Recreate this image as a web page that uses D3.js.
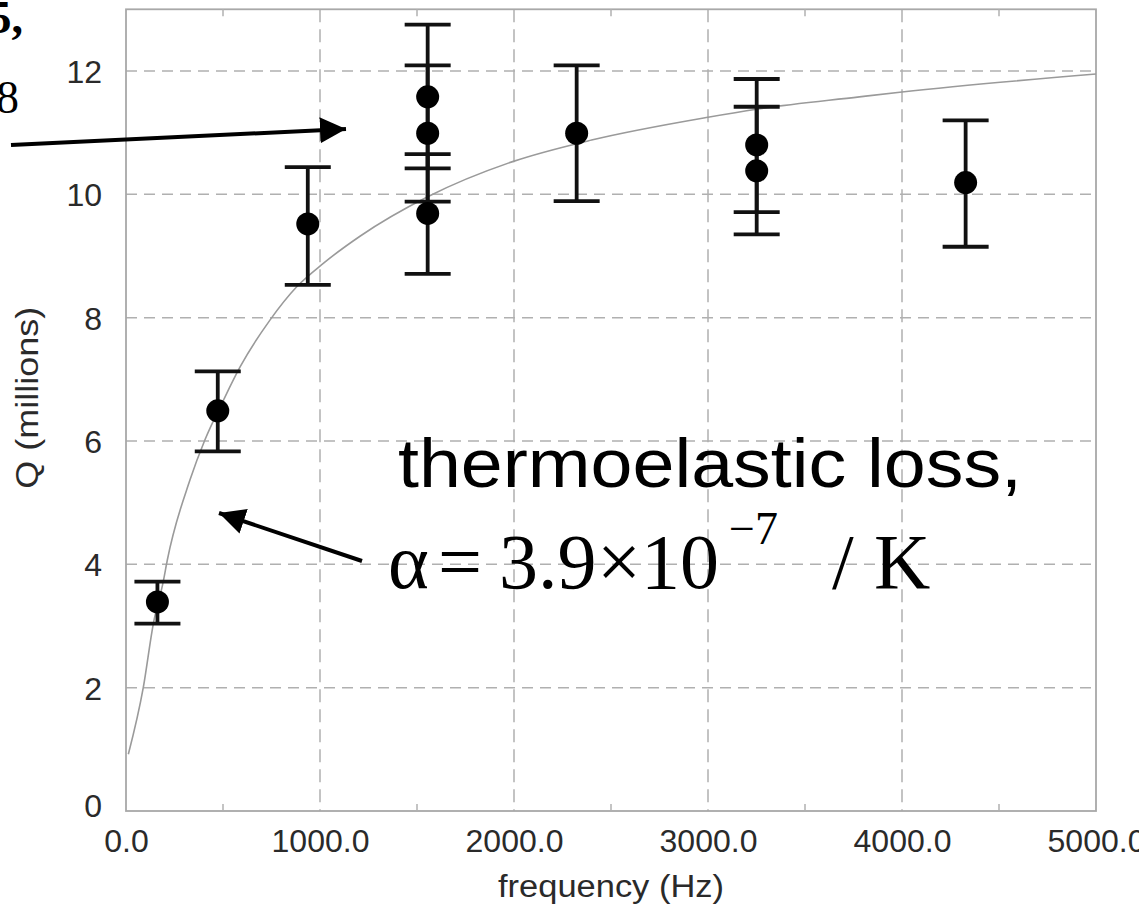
<!DOCTYPE html>
<html>
<head>
<meta charset="utf-8">
<script src="https://cdn.jsdelivr.net/npm/d3@7"></script>
<style>
  html, body { margin: 0; padding: 0; background: #fff; }
  svg { display: block; }
</style>
</head>
<body>
<svg id="chart"></svg>
<script>
// measured Q values (millions) with their error bars
const freqs  = [162, 473, 937, 1555, 1555, 1555, 2323, 3251, 3251, 4328];
const qVals  = [3.39, 6.49, 9.52, 11.58, 10.99, 9.69, 10.99, 10.80, 10.38, 10.19];
const qUpper = [3.72, 7.13, 10.44, 12.75, 12.09, 10.65, 12.09, 11.87, 11.42, 11.20];
const qLower = [3.04, 5.83, 8.53, 10.42, 9.88, 8.71, 9.89, 9.71, 9.35, 9.15];

// thermoelastic loss curve
const fitFreq = [12, 89, 141, 192, 213, 330, 407, 502, 588, 742, 880, 1017, 1206, 1555, 1993, 2400, 3000, 3250, 3780, 4000, 5000];
const fitQ    = [0.92, 2.0, 3.04, 3.72, 4.07, 5.37, 6.02, 6.66, 7.20, 7.96, 8.50, 8.88, 9.32, 9.96, 10.53, 10.88, 11.25, 11.38, 11.58, 11.66, 11.95];

const xTicks = [0, 1000, 2000, 3000, 4000, 5000];
const xMinor = [500, 1500, 2500, 3500, 4500];
const yTicks = [0, 2, 4, 6, 8, 10, 12];

(function() {
  const width = 1139, height = 906;
  const plot = {left: 126, right: 1096, top: 9.3, bottom: 811};
  const sans = "'Liberation Sans', Arial, sans-serif";
  const serif = "'Liberation Serif', 'Times New Roman', serif";

  const svg = d3.select("#chart")
    .attr("width", width)
    .attr("height", height);

  svg.append("rect").attr("width", width).attr("height", height).attr("fill", "#fff");

  const x = d3.scaleLinear().domain([0, 5000]).range([plot.left, plot.right]);
  const y = d3.scaleLinear().domain([0, 13]).range([plot.bottom, plot.top]);

  const gridColor = "#b0b0b0";

  // dashed grid
  svg.append("g")
    .selectAll("line")
    .data(yTicks.filter(d => d > 0))
    .join("line")
    .attr("x1", plot.left).attr("x2", plot.right)
    .attr("y1", d => y(d)).attr("y2", d => y(d))
    .attr("stroke", gridColor)
    .attr("stroke-width", 1.5)
    .attr("stroke-dasharray", "11,7");

  svg.append("g")
    .selectAll("line")
    .data(xTicks.filter(d => d > 0 && d < 5000))
    .join("line")
    .attr("x1", d => x(d)).attr("x2", d => x(d))
    .attr("y1", plot.top).attr("y2", plot.bottom)
    .attr("stroke", gridColor)
    .attr("stroke-width", 1.5)
    .attr("stroke-dasharray", "13,7");

  // frame
  svg.append("rect")
    .attr("x", plot.left).attr("y", plot.top)
    .attr("width", plot.right - plot.left)
    .attr("height", plot.bottom - plot.top)
    .attr("fill", "none")
    .attr("stroke", "#a8a8a8")
    .attr("stroke-width", 1.8);

  // minor ticks top & bottom
  [plot.top, plot.bottom].forEach((yy, i) => {
    svg.append("g")
      .selectAll("line")
      .data(xMinor)
      .join("line")
      .attr("x1", d => x(d)).attr("x2", d => x(d))
      .attr("y1", yy).attr("y2", i === 0 ? yy + 7 : yy - 7)
      .attr("stroke", "#b0b0b0")
      .attr("stroke-width", 1.5);
  });

  // axes (labels only, frame drawn above)
  const xAxis = svg.append("g")
    .attr("transform", `translate(0,${plot.bottom})`)
    .call(d3.axisBottom(x).tickValues(xTicks).tickFormat(d3.format(".1f")).tickSize(0).tickPadding(0));
  xAxis.select(".domain").remove();
  xAxis.selectAll("text")
    .attr("y", 41).attr("dy", 0)
    .attr("fill", "#2a2a2a")
    .attr("font-family", sans)
    .attr("font-size", 32);

  const yAxis = svg.append("g")
    .attr("transform", `translate(102,0)`)
    .call(d3.axisLeft(y).tickValues(yTicks).tickFormat(d3.format("d")).tickSize(0).tickPadding(0));
  yAxis.select(".domain").remove();
  yAxis.selectAll("text")
    .attr("x", 0)
    .attr("dy", d => d === 0 ? "0.18em" : "0.36em")
    .attr("fill", "#2a2a2a")
    .attr("font-family", sans)
    .attr("font-size", 32);

  svg.append("text")
    .attr("x", 611)
    .attr("y", 897)
    .attr("text-anchor", "middle")
    .attr("fill", "#2a2a2a")
    .attr("font-family", sans)
    .attr("font-size", 31)
    .attr("textLength", 226)
    .attr("lengthAdjust", "spacingAndGlyphs")
    .text("frequency (Hz)");

  svg.append("text")
    .attr("transform", `translate(38,${y(6.7)}) rotate(-90)`)
    .attr("text-anchor", "middle")
    .attr("fill", "#2a2a2a")
    .attr("font-family", sans)
    .attr("font-size", 31)
    .attr("textLength", 182)
    .attr("lengthAdjust", "spacingAndGlyphs")
    .text("Q (millions)");

  // fit curve
  const line = d3.line()
    .x((d, i) => x(fitFreq[i]))
    .y(d => y(d))
    .curve(d3.curveMonotoneX);

  svg.append("path")
    .datum(fitQ)
    .attr("d", line)
    .attr("fill", "none")
    .attr("stroke", "#9a9a9a")
    .attr("stroke-width", 1.6);

  // error bars
  const capHalf = 23;
  const pts = freqs.map((f, i) => ({f, q: qVals[i], hi: qUpper[i], lo: qLower[i]}));
  const eb = svg.append("g").attr("stroke", "#111").attr("stroke-width", 3.8);

  eb.selectAll("line.stem")
    .data(pts)
    .join("line")
    .attr("class", "stem")
    .attr("x1", d => x(d.f)).attr("x2", d => x(d.f))
    .attr("y1", d => y(d.hi)).attr("y2", d => y(d.lo));

  eb.selectAll("line.cap")
    .data(pts.flatMap(d => [{f: d.f, v: d.hi}, {f: d.f, v: d.lo}]))
    .join("line")
    .attr("class", "cap")
    .attr("x1", d => x(d.f) - capHalf).attr("x2", d => x(d.f) + capHalf)
    .attr("y1", d => y(d.v)).attr("y2", d => y(d.v));

  svg.append("g")
    .selectAll("circle")
    .data(pts)
    .join("circle")
    .attr("cx", d => x(d.f))
    .attr("cy", d => y(d.q))
    .attr("r", 11.5)
    .attr("fill", "#000");

  // annotation arrows
  svg.append("defs").append("marker")
    .attr("id", "head")
    .attr("viewBox", "0 0 10 10")
    .attr("refX", 10).attr("refY", 5)
    .attr("markerWidth", 6.5).attr("markerHeight", 6.5)
    .attr("markerUnits", "strokeWidth")
    .attr("orient", "auto")
    .append("path")
    .attr("d", "M0,0 L10,5 L0,10 Z")
    .attr("fill", "#000");

  svg.append("line")
    .attr("x1", 11).attr("y1", 145)
    .attr("x2", 346).attr("y2", 129)
    .attr("stroke", "#000").attr("stroke-width", 4)
    .attr("marker-end", "url(#head)");

  svg.append("line")
    .attr("x1", 362).attr("y1", 561)
    .attr("x2", 219).attr("y2", 513)
    .attr("stroke", "#000").attr("stroke-width", 4)
    .attr("marker-end", "url(#head)");

  // text clipped at the slide edge
  svg.append("text")
    .attr("x", 23).attr("y", 33)
    .attr("text-anchor", "end")
    .attr("font-family", serif)
    .attr("font-weight", "bold")
    .attr("font-size", 46)
    .text("5,");

  svg.append("text")
    .attr("x", 19).attr("y", 113)
    .attr("text-anchor", "end")
    .attr("font-family", serif)
    .attr("font-size", 46)
    .text("8");

  svg.append("text")
    .attr("x", 398).attr("y", 487)
    .attr("font-family", sans)
    .attr("font-size", 68)
    .attr("textLength", 624)
    .attr("lengthAdjust", "spacingAndGlyphs")
    .attr("fill", "#000")
    .text("thermoelastic loss,");

  // α = 3.9×10^-7 / K as one text, pieces placed by tspans
  const eq = svg.append("text")
    .attr("y", 588)
    .attr("font-family", serif)
    .attr("font-size", 78)
    .attr("fill", "#000");
  eq.append("tspan").attr("x", 388).text("α");
  eq.append("tspan").attr("x", 438).text("=");
  eq.append("tspan").attr("x", 499).text("3.9");
  eq.append("tspan").attr("x", 597).text("×");
  eq.append("tspan").attr("x", 641).text("10");
  eq.append("tspan").attr("x", 729).attr("y", 544).attr("font-size", 46).text("−7");
  eq.append("tspan").attr("x", 832).attr("y", 588).text("/");
  eq.append("tspan").attr("x", 874).text("K");
})();
</script>
</body>
</html>
